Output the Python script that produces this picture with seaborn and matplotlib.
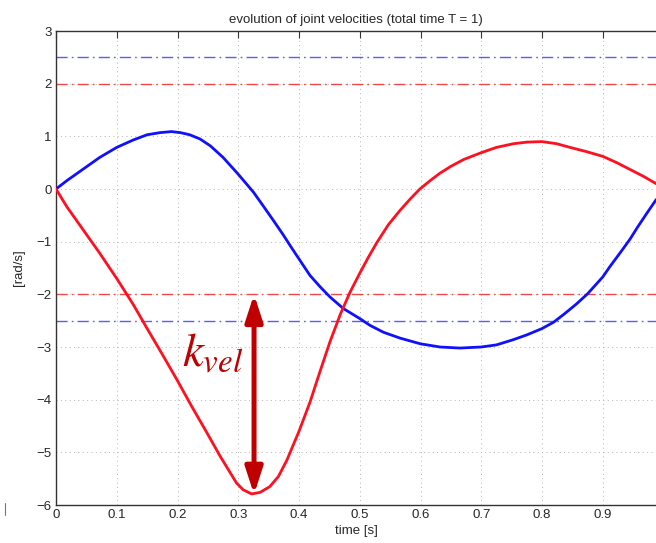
import numpy as np
import pandas as pd
import matplotlib
matplotlib.use("Agg")
import matplotlib.pyplot as plt
from matplotlib.lines import Line2D
import seaborn as sns

# joint 1 (blue) velocity samples
t_blue = [0, 0.018, 0.045, 0.072, 0.1, 0.127, 0.15, 0.171, 0.19, 0.205, 0.22,
          0.237, 0.254, 0.275, 0.3, 0.314, 0.325, 0.341, 0.358, 0.374, 0.388,
          0.418, 0.435, 0.451, 0.473, 0.5, 0.517, 0.539, 0.566, 0.6, 0.632,
          0.665, 0.7, 0.725, 0.753, 0.775, 0.8, 0.819, 0.837, 0.857, 0.875,
          0.9, 0.912, 0.93, 0.945, 0.957, 0.972, 0.988]
v_blue = [0, 0.16, 0.38, 0.60, 0.79, 0.93, 1.03, 1.07, 1.09, 1.07, 1.03,
          0.95, 0.82, 0.60, 0.28, 0.09, -0.06, -0.32, -0.60, -0.87, -1.12,
          -1.64, -1.86, -2.05, -2.27, -2.46, -2.59, -2.72, -2.83, -2.94, -3.0,
          -3.02, -3.0, -2.96, -2.86, -2.77, -2.65, -2.53, -2.37, -2.18, -1.99,
          -1.67, -1.47, -1.19, -0.95, -0.73, -0.47, -0.2]

# joint 2 (red) velocity samples
t_red = [0, 0.018, 0.045, 0.072, 0.1, 0.127, 0.149, 0.174, 0.199, 0.223,
         0.248, 0.27, 0.297, 0.308, 0.322, 0.336, 0.352, 0.366, 0.38, 0.4,
         0.418, 0.435, 0.451, 0.468, 0.484, 0.5, 0.514, 0.528, 0.547, 0.566,
         0.583, 0.599, 0.616, 0.632, 0.65, 0.671, 0.7, 0.725, 0.753, 0.775,
         0.8, 0.824, 0.846, 0.873, 0.9, 0.923, 0.945, 0.967, 0.988]
v_red = [0, -0.34, -0.78, -1.22, -1.70, -2.19, -2.63, -3.12, -3.62, -4.12,
         -4.62, -5.07, -5.58, -5.71, -5.79, -5.76, -5.65, -5.46, -5.15, -4.6,
         -4.05, -3.45, -2.9, -2.38, -1.96, -1.6, -1.3, -1.02, -0.68, -0.41,
         -0.19, 0, 0.16, 0.3, 0.43, 0.56, 0.69, 0.79, 0.86, 0.89,
         0.9, 0.86, 0.79, 0.71, 0.62, 0.5, 0.37, 0.24, 0.1]

# velocity limits
limit_blue = [2.5, -2.5]
limit_red = [2.0, -2.0]

x_ticks = [0, 0.1, 0.2, 0.3, 0.4, 0.5, 0.6, 0.7, 0.8, 0.9]
x_tick_labels = ["0", "0.1", "0.2", "0.3", "0.4", "0.5", "0.6", "0.7", "0.8", "0.9"]
y_ticks = [-6, -5, -4, -3, -2, -1, 0, 1, 2, 3]

# span of the velocity limit on joint 2, shown as a double arrow
k_vel_time = 0.326
k_vel_top = -2.0
k_vel_bottom = -5.8

sns.set_style("white")
plt.rcParams["font.family"] = ["Liberation Sans", "DejaVu Sans"]
plt.rcParams["xtick.direction"] = "in"
plt.rcParams["ytick.direction"] = "in"

fig = plt.figure(figsize=(6.56, 5.43), dpi=100)
ax = fig.add_axes([56 / 656, 1 - 505 / 543, 600 / 656, 474 / 543])

df_blue = pd.DataFrame({"t": t_blue, "v": v_blue})
df_red = pd.DataFrame({"t": t_red, "v": v_red})

for y in limit_blue:
    ax.axhline(y, color="#5a5aff", lw=1.0, dashes=(8, 3, 1.2, 3), zorder=1)
for y in limit_red:
    ax.axhline(y, color="#f04848", lw=1.0, dashes=(8, 3, 1.2, 3), zorder=1)

sns.lineplot(data=df_blue, x="t", y="v", ax=ax, color="#1010ff", lw=2.0,
             sort=False, estimator=None, zorder=3)
sns.lineplot(data=df_red, x="t", y="v", ax=ax, color="#ff1020", lw=2.0,
             sort=False, estimator=None, zorder=3)
for ln in ax.lines:
    ln.set_solid_joinstyle("round")

ax.annotate("", xy=(k_vel_time, k_vel_top), xytext=(k_vel_time, k_vel_bottom),
            arrowprops=dict(arrowstyle="<|-|>,head_width=0.26,head_length=0.8",
                            color="#c00000", lw=3.6, mutation_scale=20,
                            shrinkA=0, shrinkB=0), zorder=4)
ax.text(0.207, -3.36, r"$k_{vel}$", color="#c00000", fontsize=34,
        math_fontfamily="stix", ha="left", va="baseline")

ax.set_xlim(0, 600 / 607.5)
ax.set_ylim(-6, 3)
ax.set_xticks(x_ticks)
ax.set_xticklabels(x_tick_labels)
ax.set_yticks(y_ticks)
ax.set_yticklabels([f"{v}".replace("-", "\u2212") for v in y_ticks])
ax.tick_params(axis="both", labelsize=9.5, length=5, width=0.8, color="#333333",
               top=True, right=False, pad=3)
ax.grid(True, color="#b5b5b5", lw=0.7, ls=(0, (1, 3.5)))

for side in ["left", "bottom", "top"]:
    ax.spines[side].set_color("#333333")
    ax.spines[side].set_linewidth(1.0)
ax.spines["right"].set_visible(False)

ax.set_title("evolution of joint velocities (total time T = 1)", fontsize=9.5, pad=6)
ax.set_xlabel("time [s]", fontsize=9.5, labelpad=3)
ax.set_ylabel("[rad/s]", fontsize=9.5, labelpad=8)

fig.add_artist(Line2D([4.5 / 656, 4.5 / 656], [1 - 515 / 543, 1 - 503 / 543],
                      color="#777777", lw=0.8))

fig.savefig("out.png", dpi=100)
